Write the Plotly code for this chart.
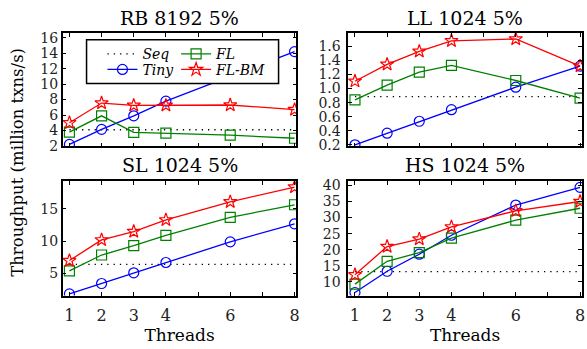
import plotly.graph_objects as go

threads = [1, 2, 3, 4, 6, 8]
tick_vals = [1, 2, 3, 4, 5, 6, 7, 8]
tick_text = ["1", "2", "3", "4", "", "6", "", "8"]

# RB 8192 5%
rb_seq = [4.1, 4.1, 4.1, 4.1, 4.1, 4.1]
rb_tiny = [2.2, 4.15, 5.9, 7.8, 11.0, 14.2]
rb_fl = [3.8, 5.9, 3.75, 3.65, 3.4, 3.0]
rb_flbm = [5.0, 7.55, 7.25, 7.25, 7.3, 6.7]

# LL 1024 5%
ll_seq = [0.886] * 6
ll_tiny = [0.2, 0.365, 0.535, 0.70, 1.02, 1.32]
ll_fl = [0.84, 1.05, 1.235, 1.33, 1.115, 0.865]
ll_flbm = [1.105, 1.345, 1.53, 1.68, 1.705, 1.32]

# SL 1024 5%
sl_seq = [6.4] * 6
sl_tiny = [1.83, 3.44, 5.1, 6.7, 9.9, 12.7]
sl_fl = [5.4, 7.86, 9.3, 10.9, 13.7, 15.65]
sl_flbm = [7.0, 10.2, 11.5, 13.3, 16.1, 18.4]

# HS 1024 5%
hs_seq = [13.2] * 6
hs_tiny = [6.7, 13.3, 18.6, 24.5, 33.9, 39.4]
hs_fl = [9.3, 16.4, 19.1, 23.6, 29.2, 32.9]
hs_flbm = [12.2, 21.0, 23.3, 27.1, 32.1, 35.0]

titles = ["RB 8192 5%", "LL 1024 5%", "SL 1024 5%", "HS 1024 5%"]
panels = [
    (rb_seq, rb_tiny, rb_fl, rb_flbm),
    (ll_seq, ll_tiny, ll_fl, ll_flbm),
    (sl_seq, sl_tiny, sl_fl, sl_flbm),
    (hs_seq, hs_tiny, hs_fl, hs_flbm),
]
y_ranges = [[1.95, 16.6], [0.178, 1.79], [1.58, 19.3], [5.76, 41.3]]
y_ticks = [
    [2, 4, 6, 8, 10, 12, 14, 16],
    [0.2, 0.4, 0.6, 0.8, 1.0, 1.2, 1.4, 1.6],
    [5, 10, 15],
    [10, 15, 20, 25, 30, 35, 40],
]
y_ticktext = [
    [str(v) for v in y_ticks[0]],
    ["%.1f" % v for v in y_ticks[1]],
    [str(v) for v in y_ticks[2]],
    [str(v) for v in y_ticks[3]],
]

W, H = 587, 349
FONT = "DejaVu Serif"
x_doms = [[63 / W, 298 / W], [350 / W, 585 / W]]
y_doms = [[1 - 147 / H, 1 - 30 / H], [1 - 301 / H, 1 - 183 / H]]

fig = go.Figure()
series_style = {
    "Seq": dict(color="black", dash="1.3px,5px", symbol=None),
    "Tiny": dict(color="#0000ff", dash="solid", symbol="circle-open"),
    "FL": dict(color="#008000", dash="solid", symbol="square-open"),
    "FL-BM": dict(color="#ff0000", dash="solid", symbol="star-open"),
}
# one single-entry legend per item so the 2x2 legend grid can be placed exactly
legend_of = {"Seq": "legend", "FL": "legend2", "Tiny": "legend3", "FL-BM": "legend4"}
legend_pos = {"legend": (103, 52), "legend2": (177, 52), "legend3": (103, 68), "legend4": (177, 68)}

layout = dict(
    width=W, height=H,
    margin=dict(l=0, r=0, t=0, b=0),
    paper_bgcolor="white", plot_bgcolor="white",
    font=dict(family=FONT, size=14, color="black"),
    showlegend=True,
)

for i, (seq, tiny, fl, flbm) in enumerate(panels):
    row, col = divmod(i, 2)
    n = "" if i == 0 else str(i + 1)
    xa, ya = "x" + n, "y" + n
    for name, vals in [("Seq", seq), ("Tiny", tiny), ("FL", fl), ("FL-BM", flbm)]:
        st = series_style[name]
        tr = dict(
            x=threads, y=vals, name=name, xaxis=xa, yaxis=ya,
            legend=legend_of[name], showlegend=(i == 0),
            line=dict(color=st["color"], width=1.3, dash=st["dash"]),
            cliponaxis=True,
        )
        if st["symbol"]:
            tr["mode"] = "lines+markers"
            tr["marker"] = dict(symbol=st["symbol"], size=10, color=st["color"],
                                line=dict(width=1.2, color=st["color"]))
        else:
            tr["mode"] = "lines"
        fig.add_trace(go.Scatter(**tr))
    axstyle = dict(showline=True, linecolor="black", linewidth=1.5, mirror="ticks",
                   ticks="inside", ticklen=4, tickwidth=1, tickcolor="black",
                   showgrid=False, zeroline=False)
    layout["xaxis" + n] = dict(
        domain=x_doms[col], anchor=ya, range=[0.79, 8.06],
        tickmode="array", tickvals=tick_vals, ticktext=tick_text,
        showticklabels=(row == 1), ticklabelstandoff=5,
        tickfont=dict(family=FONT, size=16, color="#222"),
        **axstyle,
        **({"title": dict(text="Threads", font=dict(family=FONT, size=17), standoff=0)} if row == 1 else {}),
    )
    layout["yaxis" + n] = dict(
        domain=y_doms[row], anchor=xa, range=y_ranges[i],
        tickmode="array", tickvals=y_ticks[i], ticktext=y_ticktext[i],
        tickfont=dict(family=FONT, size=14, color="#222"),
        ticklabelstandoff=(0 if col == 0 else 3),
        **axstyle,
    )

annotations = []
for i, t in enumerate(titles):
    row, col = divmod(i, 2)
    cx = (x_doms[col][0] + x_doms[col][1]) / 2
    cy = 1 - (14 if row == 0 else 166) / H
    annotations.append(dict(text=t, x=cx, y=cy, xref="paper", yref="paper",
                            xanchor="center", yanchor="middle", showarrow=False,
                            font=dict(family=FONT, size=19, color="black")))
annotations.append(dict(text="Throughput (million txns/s)", x=18 / W, y=1 - 163 / H,
                        xref="paper", yref="paper", textangle=-90, showarrow=False,
                        xanchor="center", yanchor="middle",
                        font=dict(family=FONT, size=16.5, color="black")))
layout["annotations"] = annotations

layout["shapes"] = [dict(type="rect", xref="paper", yref="paper",
                         x0=87 / W, x1=280 / W, y0=1 - 82 / H, y1=1 - 37 / H,
                         line=dict(color="black", width=1.5), fillcolor="white",
                         layer="above")]
leg_font = dict(family=FONT, size=14, color="black", style="italic")
for key, (px, py) in legend_pos.items():
    layout[key] = dict(x=px / W, y=1 - py / H, xanchor="left", yanchor="middle",
                       bgcolor="rgba(0,0,0,0)", borderwidth=0, font=leg_font,
                       tracegroupgap=0)

fig.update_layout(**layout)
fig.write_html("out.html", config={"displayModeBar": False},
               post_script="document.body.style.margin='0';document.body.style.overflow='hidden';")
